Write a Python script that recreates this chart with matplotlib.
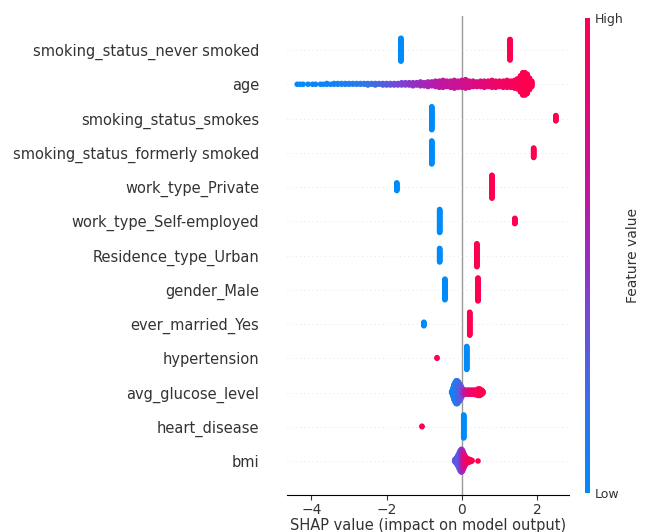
import numpy as np
import matplotlib
matplotlib.use("Agg")
import matplotlib.pyplot as plt
from matplotlib.colors import LinearSegmentedColormap
from matplotlib.colorbar import ColorbarBase

# feature names, top row first
features = [
    "smoking_status_never smoked",
    "age",
    "smoking_status_smokes",
    "smoking_status_formerly smoked",
    "work_type_Private",
    "work_type_Self-employed",
    "Residence_type_Urban",
    "gender_Male",
    "ever_married_Yes",
    "hypertension",
    "avg_glucose_level",
    "heart_disease",
    "bmi",
]

# each point group: SHAP value, feature value (0=low, 1=high), number of samples
never_smoked_shap = [-1.62, 1.28]
never_smoked_val = [0, 1]
never_smoked_n = [40, 36]

age_shap = [-4.38, -4.30, -4.22, -4.09, -3.97, -3.89, -3.76, -3.68, -3.59, -3.49,
            -3.40, -3.30, -3.20, -3.10, -3.00, -2.90, -2.80, -2.70, -2.60, -2.50,
            -2.40, -2.30, -2.20, -2.10, -2.00, -1.90, -1.80, -1.70, -1.60, -1.50,
            -1.40, -1.30, -1.20, -1.10, -1.00, -0.90, -0.80, -0.70, -0.60, -0.50,
            -0.40, -0.30, -0.20, -0.10, 0.00, 0.10, 0.20, 0.30, 0.40, 0.50,
            0.60, 0.70, 0.80, 0.90, 1.00, 1.10, 1.20, 1.30, 1.40, 1.48,
            1.56, 1.62, 1.68, 1.74, 1.80, 1.86]
age_val = [0.00, 0.00, 0.00, 0.02, 0.02, 0.03, 0.03, 0.04, 0.05, 0.05,
           0.06, 0.07, 0.08, 0.09, 0.10, 0.11, 0.12, 0.14, 0.16, 0.18,
           0.20, 0.22, 0.25, 0.28, 0.30, 0.33, 0.36, 0.38, 0.40, 0.42,
           0.45, 0.47, 0.49, 0.51, 0.53, 0.55, 0.57, 0.59, 0.61, 0.63,
           0.65, 0.66, 0.67, 0.68, 0.70, 0.72, 0.74, 0.76, 0.78, 0.80,
           0.82, 0.84, 0.86, 0.88, 0.90, 0.91, 0.92, 0.93, 0.95, 0.96,
           0.98, 1.00, 1.00, 1.00, 1.00, 1.00]
age_n = [1, 1, 1, 1, 1, 1, 1, 1, 2, 1,
         2, 2, 2, 2, 2, 2, 2, 2, 2, 3,
         2, 3, 2, 3, 3, 3, 3, 3, 4, 4,
         4, 5, 4, 6, 5, 7, 6, 8, 9, 10,
         8, 9, 11, 9, 10, 12, 9, 8, 7, 8,
         9, 8, 10, 9, 8, 9, 10, 9, 11, 14,
         22, 30, 30, 26, 16, 8]

smokes_shap = [-0.80, 2.50]
smokes_val = [0, 1]
smokes_n = [40, 10]

formerly_shap = [-0.80, 1.91]
formerly_val = [0, 1]
formerly_n = [40, 17]

private_shap = [-1.73, 0.80]
private_val = [0, 1]
private_n = [14, 40]

self_emp_shap = [-0.59, 1.41]
self_emp_val = [0, 1]
self_emp_n = [40, 10]

urban_shap = [-0.59, 0.40]
urban_val = [0, 1]
urban_n = [24, 40]

male_shap = [-0.45, 0.43]
male_val = [0, 1]
male_n = [36, 40]

married_shap = [-1.01, 0.21]
married_val = [0, 1]
married_n = [7, 40]

hypertension_shap = [-0.66, 0.13]
hypertension_val = [1, 0]
hypertension_n = [2, 40]

glucose_shap = [-0.27, -0.24, -0.21, -0.18, -0.15, -0.12, -0.09, -0.06, -0.03, 0.00,
                0.03, 0.08, 0.13, 0.18, 0.23, 0.28, 0.33, 0.38, 0.43, 0.48, 0.53, 0.56]
glucose_val = [0.05, 0.05, 0.08, 0.10, 0.12, 0.15, 0.20, 0.25, 0.30, 0.35,
               0.45, 0.60, 0.70, 0.80, 0.85, 0.90, 0.92, 0.95, 0.97, 1.00, 1.00, 1.00]
glucose_n = [4, 14, 26, 34, 40, 40, 36, 30, 24, 16,
             10, 8, 8, 8, 8, 8, 8, 9, 12, 12, 8, 4]

heart_shap = [-1.06, 0.05]
heart_val = [1, 0]
heart_n = [2, 40]

bmi_shap = [-0.19, -0.15, -0.11, -0.07, -0.04, -0.01, 0.02, 0.05, 0.08, 0.11,
            0.15, 0.19, 0.23, 0.27, 0.43]
bmi_val = [0.30, 0.35, 0.30, 0.25, 0.30, 0.45, 0.55, 0.70, 0.80, 0.85,
           0.90, 0.95, 1.00, 1.00, 1.00]
bmi_n = [4, 10, 18, 28, 36, 40, 36, 26, 18, 12, 8, 6, 4, 2, 1]

rows = [
    (never_smoked_shap, never_smoked_val, never_smoked_n),
    (age_shap, age_val, age_n),
    (smokes_shap, smokes_val, smokes_n),
    (formerly_shap, formerly_val, formerly_n),
    (private_shap, private_val, private_n),
    (self_emp_shap, self_emp_val, self_emp_n),
    (urban_shap, urban_val, urban_n),
    (male_shap, male_val, male_n),
    (married_shap, married_val, married_n),
    (hypertension_shap, hypertension_val, hypertension_n),
    (glucose_shap, glucose_val, glucose_n),
    (heart_shap, heart_val, heart_n),
    (bmi_shap, bmi_val, bmi_n),
]

red_blue = LinearSegmentedColormap.from_list("red_blue", [
    (0.0, "#008bfb"),
    (0.2, "#3a6fe8"),
    (0.4, "#7a45d6"),
    (0.5, "#9a2cc0"),
    (0.6, "#b81aa8"),
    (0.8, "#e00a7c"),
    (1.0, "#ff0051"),
])


def swarm_offsets(shaps, row_height=0.4, nbins=100):
    # same binning as the shap beeswarm layout
    n = len(shaps)
    quant = np.round(nbins * (shaps - shaps.min()) / (shaps.max() - shaps.min() + 1e-8))
    inds = np.argsort(quant, kind="stable")
    ys = np.zeros(n)
    layer = 0
    last_bin = -1
    for ind in inds:
        if quant[ind] != last_bin:
            layer = 0
        ys[ind] = np.ceil(layer / 2) * ((layer % 2) * 2 - 1)
        layer += 1
        last_bin = quant[ind]
    ys *= 0.9 * (row_height / np.max(ys + 1))
    return ys


fig = plt.figure(figsize=(6.45, 5.32), dpi=100)
ax = fig.add_axes([287 / 645, 36.75 / 532, 282 / 645, 479.5 / 532])

n_feat = len(features)
ax.axvline(0, color="#999999", lw=1, zorder=-1)
for i, (shap_v, feat_v, counts) in enumerate(rows):
    pos = n_feat - 1 - i
    ax.axhline(pos, color="#cccccc", lw=0.5, dashes=(1, 5), zorder=-1)
    xs = np.repeat(np.array(shap_v, dtype=float), counts)
    cs = np.repeat(np.array(feat_v, dtype=float), counts)
    ys = swarm_offsets(xs)
    ax.scatter(xs, pos + ys, c=cs, cmap=red_blue, vmin=0, vmax=1,
               s=16, linewidth=0, alpha=1, zorder=3, rasterized=True)

ax.set_xlim(-4.65, 2.85)
ax.set_ylim(-1, n_feat)
ax.set_yticks(range(n_feat))
ax.set_yticklabels(features[::-1], fontsize=10.5, color="#333333")
ax.tick_params(axis="y", length=0, pad=20)
ax.tick_params(axis="x", labelsize=10, color="#333333", labelcolor="#333333", pad=2)
for side in ("top", "right", "left"):
    ax.spines[side].set_visible(False)
ax.set_xticks([-4, -2, 0, 2])
ax.set_xticklabels(["\u22124", "\u22122", "0", "2"])
ax.set_xlabel("SHAP value (impact on model output)", fontsize=10.5, color="#333333", labelpad=1)

cax = fig.add_axes([585 / 645, 39 / 532, 5 / 645, 475 / 532])
cb = ColorbarBase(cax, cmap=red_blue, ticks=[0, 1])
cb.set_ticklabels(["Low", "High"])
cb.outline.set_visible(False)
cax.tick_params(labelsize=9, length=0, labelcolor="#333333")
cax.set_ylabel("Feature value", fontsize=10, labelpad=2, color="#333333")

fig.savefig("out.png", dpi=100)
